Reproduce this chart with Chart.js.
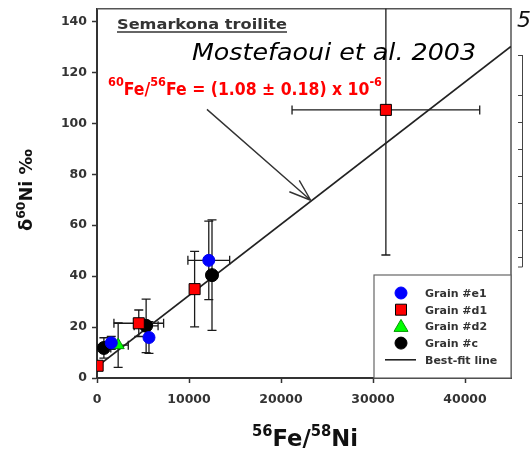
<!DOCTYPE html>
<html>
<head>
<meta charset="utf-8">
<script src="https://cdn.jsdelivr.net/npm/chart.js@4.4.1/dist/chart.umd.min.js"></script>
<style>
  html, body { margin: 0; padding: 0; background: #fff; }
  #chart { display: block; }
</style>
</head>
<body>
<canvas id="chart" width="531" height="450"></canvas>
<script>
// Grain #e1 (blue circles)
const e1X = [12150, 5650, 1550];
const e1Y = [46.2, 15.9, 13.8];
const e1XErr = [2270, 0, 0];
const e1YErr = [15.4, 6.2, 2.5];

// Grain #d1 (red squares)
const d1X = [70, 4540, 10610, 31400];
const d1Y = [4.8, 21.5, 34.9, 105.3];
const d1XErr = [0, 2700, 0, 10200];
const d1YErr = [0, 5.2, 14.8, 57];

// Grain #d2 (green triangle)
const d2X = [2300];
const d2Y = [12.9];
const d2XErr = [1100];
const d2YErr = [8.7];

// Grain #c (black circles)
const cX = [750, 5340, 12500];
const cY = [11.8, 20.5, 40.4];
const cXErr = [750, 1300, 0];
const cYErr = [4, 10.5, 21.7];

// Best-fit line end points
const fitX = [0, 45000];
const fitY = [4.5, 130.2];

// tick values
const xTicks = [0, 10000, 20000, 30000, 40000];
const yTicks = [0, 20, 40, 60, 80, 100, 120, 140];

// arrow of the annotation, data coords
const arrowFrom = [11950, 105.5];
const arrowTo = [23230, 69.8];

const legendItems = [
    { label: 'Grain #e1', style: 'circle', color: '#0000ff' },
    { label: 'Grain #d1', style: 'rect', color: '#ff0000' },
    { label: 'Grain #d2', style: 'triangle', color: '#00ff00' },
    { label: 'Grain #c', style: 'circle', color: '#000000' },
    { label: 'Best-fit line', style: 'line', color: '#222222' }
];

const toPts = (xs, ys) => xs.map((x, i) => ({ x, y: ys[i] }));

// draws runs of text (with superscripts), stretched to a target width
function drawRuns(ctx, runs, x, baseline, size, supSize, supRise, target, color) {
    ctx.save();
    ctx.fillStyle = color;
    ctx.textBaseline = 'alphabetic';
    ctx.textAlign = 'left';
    let w = 0;
    runs.forEach(r => {
        ctx.font = `bold ${r.sup ? supSize : size}px "DejaVu Sans"`;
        w += ctx.measureText(r.t).width;
    });
    const sx = target ? target / w : 1;
    ctx.translate(x, baseline);
    ctx.scale(sx, 1);
    let cx = 0;
    runs.forEach(r => {
        ctx.font = `bold ${r.sup ? supSize : size}px "DejaVu Sans"`;
        ctx.fillText(r.t, cx, r.sup ? -supRise : 0);
        cx += ctx.measureText(r.t).width;
    });
    ctx.restore();
}

function marker(ctx, style, x, y, color) {
    ctx.save();
    ctx.fillStyle = color;
    ctx.strokeStyle = style === 'rect' ? '#000' : (style === 'triangle' ? '#009900' : color);
    ctx.lineWidth = 1;
    ctx.beginPath();
    if (style === 'circle') {
        ctx.arc(x, y, 6, 0, Math.PI * 2);
    } else if (style === 'rect') {
        ctx.rect(x - 5.5, y - 5.5, 11, 11);
    } else if (style === 'triangle') {
        ctx.moveTo(x, y - 7);
        ctx.lineTo(x + 7, y + 5);
        ctx.lineTo(x - 7, y + 5);
        ctx.closePath();
    }
    ctx.fill();
    ctx.stroke();
    ctx.restore();
}

const errorBars = {
    id: 'errorBars',
    beforeDatasetsDraw(chart) {
        const { ctx, chartArea, scales } = chart;
        ctx.save();
        ctx.beginPath();
        ctx.rect(chartArea.left, chartArea.top, chartArea.right - chartArea.left, chartArea.bottom - chartArea.top);
        ctx.clip();
        ctx.strokeStyle = '#1a1a1a';
        ctx.lineWidth = 1.3;
        const cap = 4.5;
        chart.data.datasets.forEach(ds => {
            if (!ds.errX) return;
            ds.data.forEach((p, j) => {
                const px = scales.x.getPixelForValue(p.x);
                const py = scales.y.getPixelForValue(p.y);
                if (ds.errY[j]) {
                    const y1 = scales.y.getPixelForValue(p.y + ds.errY[j]);
                    const y2 = scales.y.getPixelForValue(p.y - ds.errY[j]);
                    ctx.beginPath();
                    ctx.moveTo(px, y1); ctx.lineTo(px, y2);
                    ctx.moveTo(px - cap, y1); ctx.lineTo(px + cap, y1);
                    ctx.moveTo(px - cap, y2); ctx.lineTo(px + cap, y2);
                    ctx.stroke();
                }
                if (ds.errX[j]) {
                    const x1 = scales.x.getPixelForValue(p.x - ds.errX[j]);
                    const x2 = scales.x.getPixelForValue(p.x + ds.errX[j]);
                    ctx.beginPath();
                    ctx.moveTo(x1, py); ctx.lineTo(x2, py);
                    ctx.moveTo(x1, py - cap); ctx.lineTo(x1, py + cap);
                    ctx.moveTo(x2, py - cap); ctx.lineTo(x2, py + cap);
                    ctx.stroke();
                }
            });
        });
        ctx.restore();
    }
};

const decorations = {
    id: 'decorations',
    beforeDatasetsDraw(chart) {
        const { ctx, chartArea: a, scales } = chart;
        // frame top/right
        ctx.save();
        ctx.strokeStyle = '#555';
        ctx.lineWidth = 1.5;
        ctx.beginPath();
        ctx.moveTo(a.left, a.top);
        ctx.lineTo(a.right, a.top);
        ctx.lineTo(a.right, a.bottom);
        ctx.stroke();

        // arrow
        const x0 = scales.x.getPixelForValue(arrowFrom[0]);
        const y0 = scales.y.getPixelForValue(arrowFrom[1]);
        const x1 = scales.x.getPixelForValue(arrowTo[0]);
        const y1 = scales.y.getPixelForValue(arrowTo[1]);
        const ang = Math.atan2(y0 - y1, x0 - x1);
        ctx.strokeStyle = '#333';
        ctx.lineWidth = 1.4;
        ctx.beginPath();
        ctx.moveTo(x0, y0); ctx.lineTo(x1, y1);
        [-0.34, 0.33].forEach(d => {
            ctx.moveTo(x1, y1);
            ctx.lineTo(x1 + 23 * Math.cos(ang + d), y1 + 23 * Math.sin(ang + d));
        });
        ctx.stroke();
        ctx.restore();
    },
    afterDraw(chart) {
        const { ctx, chartArea: a } = chart;

        // title texts
        drawRuns(ctx, [{ t: 'Semarkona troilite' }], 117, 29, 14, 10, 0, 170, '#333');
        ctx.save();
        ctx.strokeStyle = '#333';
        ctx.lineWidth = 1.3;
        ctx.beginPath();
        ctx.moveTo(117, 32); ctx.lineTo(287, 32);
        ctx.stroke();

        ctx.font = 'italic 23px "DejaVu Sans"';
        ctx.fillStyle = '#000';
        const mw = ctx.measureText('Mostefaoui et al. 2003').width;
        ctx.translate(192, 60);
        ctx.scale(284 / mw, 1);
        ctx.fillText('Mostefaoui et al. 2003', 0, 0);
        ctx.restore();

        drawRuns(ctx, [
            { t: '60', sup: true }, { t: 'Fe/' }, { t: '56', sup: true },
            { t: 'Fe = (1.08 ± 0.18) x 10' }, { t: '-6', sup: true }
        ], 108, 95, 18, 13, 9, 274, '#ff0000');

        // axis titles
        drawRuns(ctx, [{ t: '56', sup: true }, { t: 'Fe/' }, { t: '58', sup: true }, { t: 'Ni' }],
            252, 446, 23, 15, 10, 106, '#111');
        ctx.save();
        ctx.translate(32, 231);
        ctx.rotate(-Math.PI / 2);
        drawRuns(ctx, [{ t: 'δ' }, { t: '60', sup: true }, { t: 'Ni ‰' }], 0, 0, 17, 12, 7, 82, '#111');
        ctx.restore();

        // legend box
        const lx = a.right - 137, ly = a.bottom - 103;
        ctx.save();
        ctx.fillStyle = '#fff';
        ctx.strokeStyle = '#666';
        ctx.lineWidth = 1.2;
        ctx.fillRect(lx, ly, a.right - lx, a.bottom - ly);
        ctx.strokeRect(lx, ly, a.right - lx, a.bottom - ly);
        legendItems.forEach((it, i) => {
            const y = ly + 18 + i * 16.7;
            if (it.style === 'line') {
                ctx.strokeStyle = it.color;
                ctx.lineWidth = 1.6;
                ctx.beginPath();
                ctx.moveTo(lx + 11, y); ctx.lineTo(lx + 42, y);
                ctx.stroke();
            } else {
                marker(ctx, it.style, lx + 27, y, it.color);
            }
            ctx.font = 'bold 11px "DejaVu Sans"';
            ctx.fillStyle = '#333';
            ctx.textBaseline = 'middle';
            ctx.fillText(it.label, lx + 51, y + 1);
        });
        ctx.restore();

        // cut-off piece of the neighbouring figure at the right edge
        ctx.save();
        ctx.font = 'italic 22px "DejaVu Sans"';
        ctx.fillStyle = '#111';
        ctx.fillText('5', 517, 27);
        ctx.strokeStyle = '#444';
        ctx.lineWidth = 1;
        ctx.beginPath();
        ctx.moveTo(522.5, 55); ctx.lineTo(522.5, 267);
        ctx.lineTo(518, 267);
        [55, 95, 122, 149, 176, 203, 230, 257].forEach(t => {
            ctx.moveTo(518, t + 0.5); ctx.lineTo(522.5, t + 0.5);
        });
        ctx.stroke();
        ctx.restore();
    }
};

const xTickFont = { family: '"DejaVu Sans"', size: 12.5, weight: 'bold' };
// tiny lineHeight so the top label does not push the plot area down
const yTickFont = { family: '"DejaVu Sans"', size: 12.5, weight: 'bold', lineHeight: 0.01 };

new Chart(document.getElementById('chart'), {
    type: 'scatter',
    data: {
        datasets: [
            { label: 'Grain #e1', data: toPts(e1X, e1Y), errX: e1XErr, errY: e1YErr,
              pointStyle: 'circle', pointRadius: 6, backgroundColor: '#0000ff', borderColor: '#0000ee', borderWidth: 1 },
            { label: 'Grain #d1', data: toPts(d1X, d1Y), errX: d1XErr, errY: d1YErr,
              pointStyle: 'rect', pointRadius: 7.8, backgroundColor: '#ff0000', borderColor: '#000', borderWidth: 1 },
            { label: 'Grain #d2', data: toPts(d2X, d2Y), errX: d2XErr, errY: d2YErr,
              pointStyle: 'triangle', pointRadius: 7, backgroundColor: '#00ff00', borderColor: '#009900', borderWidth: 1 },
            { label: 'Grain #c', data: toPts(cX, cY), errX: cXErr, errY: cYErr,
              pointStyle: 'circle', pointRadius: 6.5, backgroundColor: '#000', borderColor: '#000', borderWidth: 1 },
            { label: 'Best-fit line', type: 'line', data: toPts(fitX, fitY), showLine: true,
              borderColor: '#222', borderWidth: 1.8, pointRadius: 0, fill: false }
        ]
    },
    options: {
        responsive: false,
        animation: false,
        devicePixelRatio: 1,
        layout: { padding: { top: 5, right: 20, left: 0, bottom: 0 } },
        plugins: { legend: { display: false }, tooltip: { enabled: false } },
        scales: {
            x: {
                type: 'linear', min: 0, max: 45000,
                ticks: { font: xTickFont, color: '#333', padding: 9, maxRotation: 0, autoSkip: false,
                         callback: v => String(v) },
                grid: { drawOnChartArea: false, tickLength: 5, color: '#333', tickWidth: 1.5 },
                border: { color: '#333', width: 2 },
                afterBuildTicks: s => { s.ticks = xTicks.map(v => ({ value: v })); },
                afterFit: s => { s.height = 72; }
            },
            y: {
                type: 'linear', min: 0, max: 145,
                ticks: { font: yTickFont, color: '#333', padding: 5, autoSkip: false },
                grid: { drawOnChartArea: false, tickLength: 5, color: '#333', tickWidth: 1.5 },
                border: { color: '#333', width: 2 },
                afterBuildTicks: s => { s.ticks = yTicks.map(v => ({ value: v })); },
                afterFit: s => { s.width = 97; }
            }
        }
    },
    plugins: [decorations, errorBars]
});
</script>
</body>
</html>
